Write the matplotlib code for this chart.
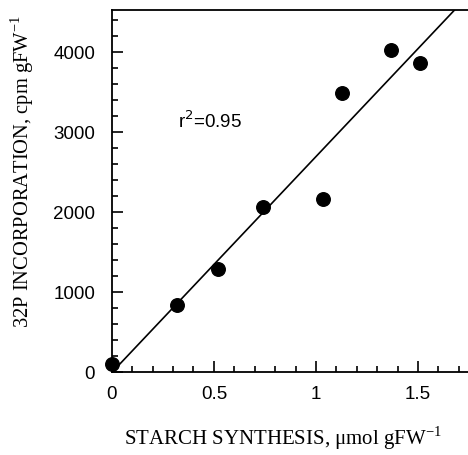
import numpy as np
import matplotlib.pyplot as plt
from matplotlib.ticker import MultipleLocator

# values
starch = [0.0, 0.32, 0.52, 0.74, 1.035, 1.13, 1.37, 1.51]
p32 = [100, 840, 1290, 2060, 2170, 3490, 4030, 3860]
r2_text = "r$^2$=0.95"

sans = "Liberation Sans"
serif = "Liberation Serif"

fig = plt.figure(figsize=(4.68, 4.55), dpi=100)
ax = fig.add_axes([0.239, 0.182, 0.761, 0.796])

ax.scatter(starch, p32, s=95, c='black', zorder=3, clip_on=False)

# least squares line
slope, icept = np.polyfit(starch, p32, 1)
xl = np.array([0.0, 1.8])
ax.plot(xl, slope * xl + icept, 'k-', linewidth=1.2)

ax.set_xlim(0, 1.745)
ax.set_ylim(0, 4525)

ax.xaxis.set_major_locator(MultipleLocator(0.5))
ax.xaxis.set_minor_locator(MultipleLocator(0.1))
ax.yaxis.set_major_locator(MultipleLocator(1000))
ax.yaxis.set_minor_locator(MultipleLocator(200))
ax.set_xticks([0, 0.5, 1, 1.5])
ax.set_xticklabels(['0', '0.5', '1', '1.5'])

ax.tick_params(which='both', direction='in', right=False, top=False, width=1.2)
ax.tick_params(which='major', length=8, labelsize=13.5)
ax.tick_params(axis='x', which='major', pad=10)
ax.tick_params(axis='y', which='major', pad=12)
ax.tick_params(which='minor', length=4)
for lab in ax.get_xticklabels() + ax.get_yticklabels():
    lab.set_family(sans)

ax.spines['right'].set_visible(False)
for s in ['left', 'bottom', 'top']:
    ax.spines[s].set_linewidth(1.3)

ax.text(0.325, 3140, r2_text, fontsize=13.5, family=sans, va='center')

fig.text(0.605, 0.038, r"STARCH SYNTHESIS, $\mathregular{\mu}$mol gFW$^{\mathregular{-1}}$",
         family=serif, fontsize=15, ha='center', va='center')
fig.text(0.047, 0.622, r"32P INCORPORATION, cpm gFW$^{\mathregular{-1}}$",
         family=serif, fontsize=14.8, ha='center', va='center', rotation=90)

fig.savefig('out.png', dpi=100)
